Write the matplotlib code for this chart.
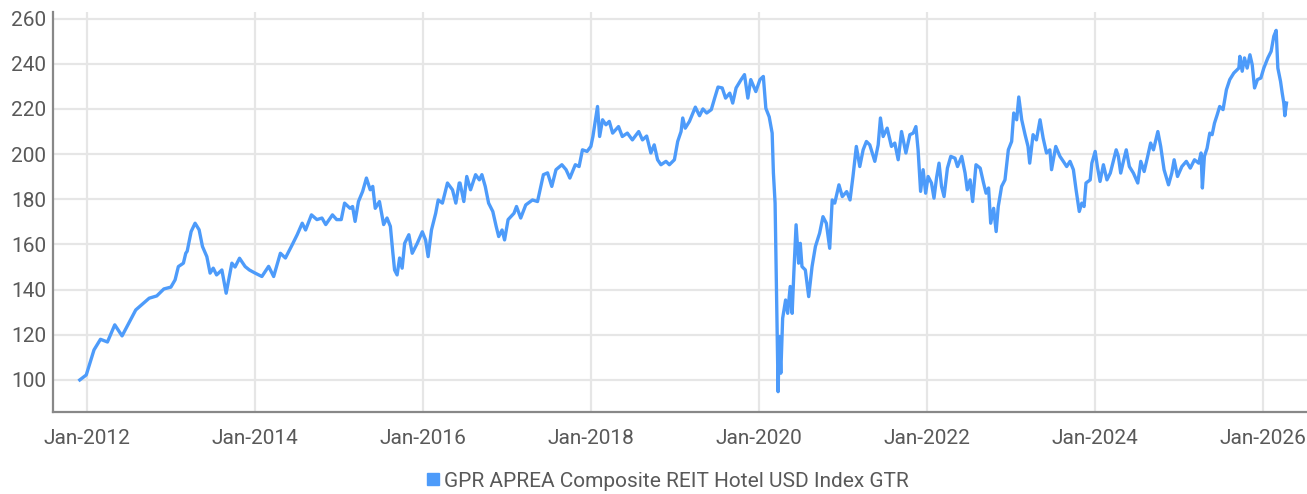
import matplotlib
matplotlib.use("Agg")
import matplotlib.pyplot as plt
import matplotlib.dates as mdates
from matplotlib.lines import Line2D
import numpy as np
import pandas as pd

# decimal years and index level
years = [
    2011.913, 2011.99, 2012.083, 2012.16, 2012.243, 2012.33, 2012.417, 2012.58,
    2012.74, 2012.83, 2012.915, 2012.998, 2013.046, 2013.085, 2013.145, 2013.173,
    2013.19, 2013.237, 2013.284, 2013.332, 2013.372, 2013.424, 2013.463, 2013.5,
    2013.54, 2013.603, 2013.654, 2013.722, 2013.76, 2013.813, 2013.88, 2013.93,
    2014.0, 2014.08, 2014.16, 2014.22, 2014.3, 2014.36, 2014.44, 2014.5,
    2014.56, 2014.6, 2014.67, 2014.735, 2014.795, 2014.84, 2014.92, 2014.97,
    2015.025, 2015.065, 2015.13, 2015.16, 2015.19, 2015.23, 2015.28, 2015.325,
    2015.37, 2015.4, 2015.43, 2015.48, 2015.53, 2015.57, 2015.61, 2015.64,
    2015.66, 2015.69, 2015.72, 2015.75, 2015.78, 2015.83, 2015.87, 2015.93,
    2015.99, 2016.03, 2016.06, 2016.1, 2016.15, 2016.18, 2016.23, 2016.29,
    2016.35, 2016.39, 2016.43, 2016.44, 2016.485, 2016.52, 2016.565, 2016.625,
    2016.67, 2016.7, 2016.74, 2016.78, 2016.83, 2016.87, 2016.9, 2016.94,
    2016.97, 2017.01, 2017.08, 2017.11, 2017.16, 2017.22, 2017.3, 2017.36,
    2017.43, 2017.48, 2017.53, 2017.58, 2017.65, 2017.7, 2017.745, 2017.81,
    2017.855, 2017.895, 2017.95, 2017.995, 2018.02, 2018.075, 2018.1, 2018.135,
    2018.175, 2018.215, 2018.255, 2018.325, 2018.37, 2018.43, 2018.49, 2018.565,
    2018.61, 2018.66, 2018.71, 2018.75, 2018.79, 2018.83, 2018.89, 2018.93,
    2018.99, 2019.03, 2019.07, 2019.09, 2019.12, 2019.17, 2019.24, 2019.29,
    2019.33, 2019.375, 2019.43, 2019.47, 2019.51, 2019.56, 2019.6, 2019.65,
    2019.685, 2019.725, 2019.785, 2019.825, 2019.865, 2019.9, 2019.96, 2020.01,
    2020.05, 2020.08, 2020.12, 2020.155, 2020.17, 2020.19, 2020.21, 2020.226,
    2020.24, 2020.258, 2020.28, 2020.315, 2020.34, 2020.37, 2020.393, 2020.413,
    2020.44, 2020.47, 2020.49, 2020.51, 2020.55, 2020.59, 2020.63, 2020.67,
    2020.72, 2020.76, 2020.8, 2020.84, 2020.87, 2020.9, 2020.95, 2020.99,
    2021.04, 2021.08, 2021.115, 2021.155, 2021.196, 2021.236, 2021.275, 2021.315,
    2021.375, 2021.415, 2021.442, 2021.474, 2021.522, 2021.573, 2021.613, 2021.653,
    2021.693, 2021.745, 2021.792, 2021.832, 2021.864, 2021.89, 2021.92, 2021.95,
    2021.98, 2022.01, 2022.05, 2022.08, 2022.11, 2022.14, 2022.17, 2022.2,
    2022.24, 2022.28, 2022.33, 2022.36, 2022.41, 2022.45, 2022.476, 2022.51,
    2022.54, 2022.58, 2022.63, 2022.67, 2022.7, 2022.73, 2022.755, 2022.79,
    2022.82, 2022.845, 2022.885, 2022.925, 2022.965, 2023.005, 2023.03, 2023.065,
    2023.09, 2023.125, 2023.165, 2023.2, 2023.22, 2023.26, 2023.3, 2023.343,
    2023.38, 2023.42, 2023.46, 2023.48, 2023.53, 2023.58, 2023.62, 2023.66,
    2023.7, 2023.74, 2023.772, 2023.81, 2023.84, 2023.867, 2023.89, 2023.94,
    2023.96, 2024.0, 2024.026, 2024.058, 2024.098, 2024.14, 2024.18, 2024.22,
    2024.25, 2024.276, 2024.304, 2024.336, 2024.37, 2024.407, 2024.455, 2024.507,
    2024.543, 2024.583, 2024.62, 2024.66, 2024.694, 2024.746, 2024.78, 2024.82,
    2024.873, 2024.912, 2024.94, 2024.98, 2025.03, 2025.083, 2025.13, 2025.18,
    2025.23, 2025.258, 2025.274, 2025.298, 2025.33, 2025.362, 2025.39, 2025.418,
    2025.45, 2025.48, 2025.52, 2025.56, 2025.6, 2025.648, 2025.708, 2025.72,
    2025.748, 2025.775, 2025.807, 2025.84, 2025.867, 2025.895, 2025.93, 2025.97,
    2026.006, 2026.054, 2026.093, 2026.125, 2026.153, 2026.173, 2026.205, 2026.225,
    2026.244, 2026.256, 2026.276,
]
index_level = [
    100.0, 102.2, 113.3, 118.0, 116.8, 124.4, 119.5, 131.0,
    136.2, 137.2, 140.3, 141.1, 144.3, 150.2, 151.7, 156.1,
    157.0, 165.7, 169.4, 166.5, 159.1, 154.6, 147.3, 149.5,
    146.5, 148.7, 138.4, 151.7, 150.0, 153.9, 150.2, 148.7,
    147.3, 145.8, 150.3, 145.8, 156.1, 154.0, 159.8, 164.3,
    169.4, 166.4, 173.1, 171.0, 171.7, 168.8, 173.1, 171.0,
    171.0, 178.3, 176.0, 176.8, 170.2, 179.0, 183.5, 189.4,
    184.2, 185.7, 176.0, 179.0, 168.8, 171.7, 168.0, 156.1,
    148.7, 146.5, 154.0, 149.5, 160.5, 164.3, 156.1, 160.5,
    165.6, 162.0, 154.6, 166.4, 173.8, 179.7, 178.3, 187.2,
    184.2, 178.3, 187.2, 187.2, 179.0, 190.1, 184.2, 190.9,
    188.6, 190.9, 185.7, 178.3, 174.6, 168.0, 163.5, 166.4,
    162.0, 171.0, 173.8, 176.8, 171.7, 177.5, 179.7, 179.0,
    190.9, 191.7, 185.7, 193.1, 195.3, 193.1, 189.4, 195.3,
    194.5, 201.9, 201.2, 203.4, 207.8, 221.1, 207.8, 215.2,
    213.0, 214.5, 209.3, 212.2, 207.8, 209.3, 206.3, 210.0,
    206.3, 208.0, 200.5, 204.1, 197.5, 195.3, 196.8, 195.3,
    197.5, 205.6, 210.0, 216.0, 211.5, 214.5, 220.8, 217.0,
    220.0, 218.2, 219.7, 224.8, 229.7, 229.3, 224.8, 227.0,
    222.6, 229.3, 233.0, 235.2, 224.8, 233.0, 227.7, 233.0,
    234.4, 220.3, 216.5, 209.3, 191.6, 178.3, 131.0, 94.8,
    119.2, 103.0, 127.3, 135.4, 129.5, 141.4, 129.5, 147.3,
    168.7, 151.7, 160.5, 150.2, 148.7, 136.9, 150.2, 159.1,
    165.0, 172.3, 169.4, 158.3, 179.7, 178.3, 186.4, 181.2,
    183.4, 179.7, 190.1, 203.4, 194.5, 201.9, 205.6, 204.1,
    196.8, 204.1, 216.0, 207.8, 211.5, 203.4, 204.9, 197.5,
    210.0, 200.5, 208.6, 209.3, 212.2, 201.9, 183.5, 193.1,
    182.7, 190.1, 187.2, 180.5, 189.4, 196.0, 185.7, 181.2,
    193.8, 199.0, 198.2, 194.5, 199.0, 191.6, 184.2, 188.6,
    179.0, 195.3, 193.8, 187.2, 182.7, 185.0, 169.4, 176.0,
    165.7, 176.8, 185.7, 188.6, 201.9, 205.6, 218.2, 215.2,
    225.3, 215.2, 208.6, 203.4, 196.0, 208.6, 206.3, 215.2,
    207.1, 200.5, 201.9, 193.1, 203.4, 199.0, 196.8, 194.5,
    196.8, 193.1, 184.2, 174.6, 178.3, 176.8, 187.2, 188.6,
    196.0, 201.2, 194.5, 187.9, 195.3, 188.6, 191.6, 197.5,
    201.9, 199.0, 191.6, 196.8, 201.9, 194.5, 191.6, 187.2,
    196.8, 192.3, 198.2, 204.9, 201.9, 210.0, 203.4, 193.1,
    186.4, 191.6, 197.5, 190.1, 194.5, 196.8, 193.8, 197.5,
    196.0, 200.5, 185.0, 199.0, 202.6, 209.3, 208.6, 213.7,
    217.4, 221.1, 219.7, 228.5, 233.0, 235.9, 238.1, 243.3,
    236.7, 242.6, 238.1, 244.0, 239.6, 229.3, 233.0, 233.7,
    238.1, 242.6, 245.5, 252.2, 254.8, 238.1, 232.2, 227.0,
    222.6, 217.0, 222.6,
]
y_ticks = [100, 120, 140, 160, 180, 200, 220, 240, 260]
series_name = "GPR APREA Composite REIT Hotel USD Index GTR"


def to_date(y):
    yr = int(y)
    start = pd.Timestamp(year=yr, month=1, day=1)
    return start + pd.Timedelta(days=(y - yr) * 365.25)


dates = [to_date(y) for y in years]

plt.rcParams['font.family'] = ['Roboto', 'DejaVu Sans']

fig = plt.figure(figsize=(13.07, 4.94), dpi=100)
ax = fig.add_axes([0.0406, 0.166, 0.9594, 0.810])

line_color = "#4d9bfa"
ax.plot(dates, index_level, color=line_color, lw=2.4, solid_joinstyle="round")

ax.set_ylim(85.8, 263)
ax.set_xlim(to_date(2011.595), to_date(2026.52))
ax.set_yticks(y_ticks)
ax.xaxis.set_major_locator(mdates.YearLocator(2, month=1, day=1))
ax.xaxis.set_major_formatter(mdates.DateFormatter("%b-%Y"))

ax.grid(True, color="#e6e6e6", lw=1.6)
ax.set_axisbelow(True)
for s in ["top", "right"]:
    ax.spines[s].set_visible(False)
for s in ["left", "bottom"]:
    ax.spines[s].set_color("#888888")
    ax.spines[s].set_linewidth(1.6)

ax.tick_params(axis="both", length=0, labelsize=15, labelcolor="#595959")
ax.tick_params(axis="x", pad=12)
ax.tick_params(axis="y", pad=5)

handle = Line2D([], [], marker="s", linestyle="none", color=line_color, markersize=8)
fig.legend([handle], [series_name], loc="center", bbox_to_anchor=(0.51, 0.026),
           frameon=False, fontsize=15, labelcolor="#595959",
           handletextpad=0.1, handlelength=0.8)

fig.savefig("out.png", dpi=100)
plt.close(fig)
